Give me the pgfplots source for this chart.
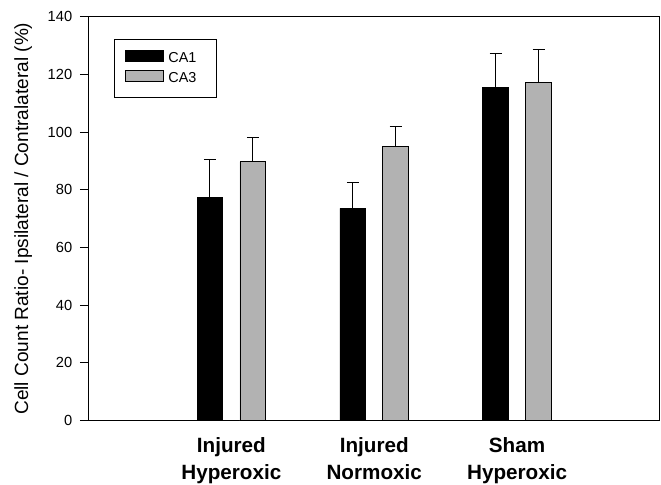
\documentclass[border=0pt]{standalone}
\usepackage{fontspec}
\setmainfont{Liberation Sans}
\usepackage{pgfplots}
\pgfplotsset{compat=1.18}
\definecolor{barg}{RGB}{178,178,178}
\begin{document}
\begin{tikzpicture}
\path[use as bounding box] (-66.4pt,-48.2pt) rectangle (429.4pt,315.5pt);
\begin{axis}[
  at={(0,0)}, anchor=south west,
  scale only axis, width=428.6pt, height=303pt,
  ybar, bar width=0.18,
  xmin=0, xmax=4, ymin=0, ymax=140,
  ytick={0,20,...,140},
  xtick={1,2,3},
  xticklabels={Injured\\Hyperoxic, Injured\\Normoxic, Sham\\Hyperoxic},
  xticklabel style={align=center, font=\fontsize{15.5}{20.25}\selectfont\bfseries, yshift=-2.5pt},
  yticklabel style={font=\fontsize{11}{13}\selectfont, xshift=-2.3pt},
  /pgf/number format/assume math mode=true,
  major x tick style={draw=none},
  ytick pos=left, xtick pos=bottom,
  tick align=outside, major tick length=6.4pt,
  major tick style={line width=0.75pt, black},
  axis line style={line width=0.75pt},
  ylabel={Cell Count Ratio- Ipsilateral / Contralateral (\%)},
  ylabel style={font=\fontsize{14.3}{16}\selectfont, at={(axis description cs:-0.1143,0.5)}, anchor=center},
  legend image code/.code={\draw[#1, line width=0.75pt] (0pt,-2.5pt) rectangle (28.7pt,5.8pt);},
  legend cell align=left,
  legend style={at={(axis description cs:0,1)}, anchor=north west, xshift=19.1pt, yshift=-16.5pt,
    draw=black, line width=0.75pt, font=\fontsize{10.8}{13}\selectfont, row sep=1.75pt,
    inner xsep=8pt, inner ysep=8pt,
    nodes={inner xsep=3pt}},
]
\addplot[bar shift=-0.15, fill=black, draw=black, line width=0.6pt,
  error bars/.cd, y dir=plus, y explicit, error mark=|,
  error bar style={line width=0.75pt, black},
  error mark options={black, mark size=4.5pt, line width=0.75pt}]
  coordinates {(1,77.5) +- (0,13.1) (2,73.6) +- (0,8.9) (3,115.5) +- (0,11.6)};
\addlegendentry{\makebox[25pt][l]{CA1}}
\addplot[bar shift=0.15, fill=barg, draw=black, line width=0.6pt,
  error bars/.cd, y dir=plus, y explicit, error mark=|,
  error bar style={line width=0.75pt, black},
  error mark options={black, mark size=4.5pt, line width=0.75pt}]
  coordinates {(1,89.7) +- (0,8.4) (2,94.9) +- (0,6.9) (3,117.1) +- (0,11.6)};
\addlegendentry{\makebox[25pt][l]{CA3}}
\end{axis}
\end{tikzpicture}
\end{document}
